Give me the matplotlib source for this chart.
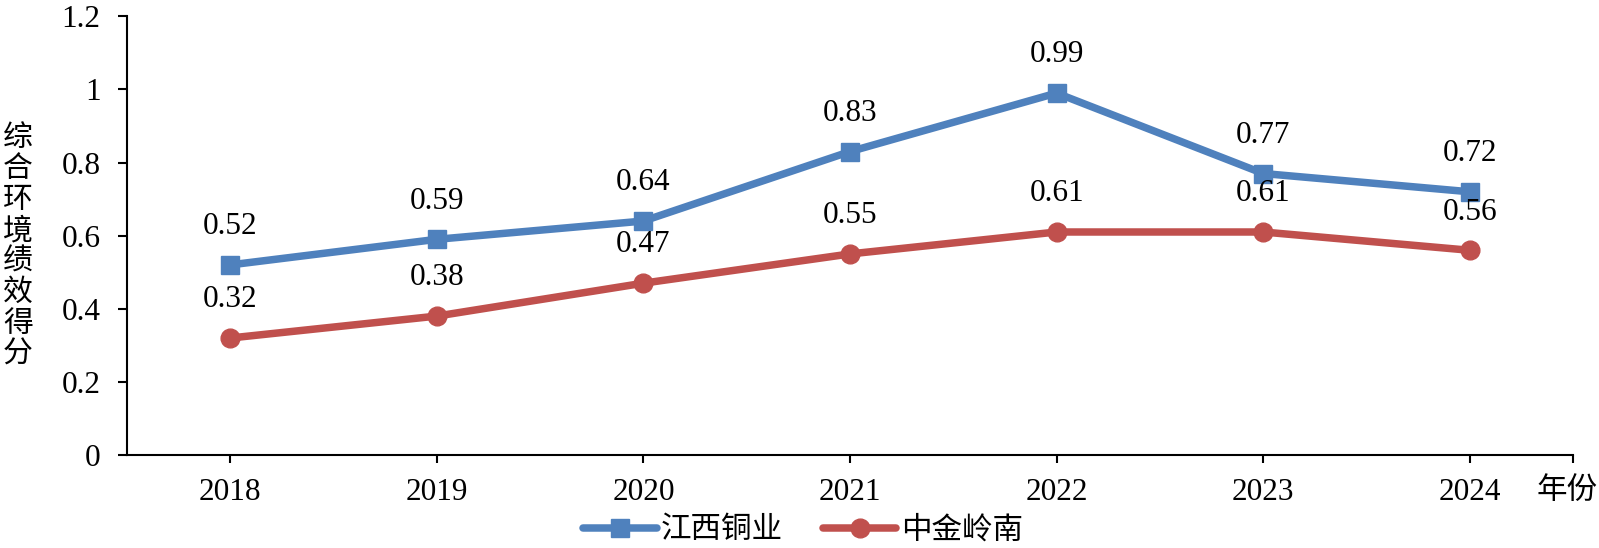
import matplotlib
matplotlib.use("Agg")
import matplotlib.pyplot as plt

years = ["2018", "2019", "2020", "2021", "2022", "2023", "2024"]
jx_values = [0.52, 0.59, 0.64, 0.83, 0.99, 0.77, 0.72]
zj_values = [0.32, 0.38, 0.47, 0.55, 0.61, 0.61, 0.56]
series_names = ["江西铜业", "中金岭南"]
y_ticks = [0, 0.2, 0.4, 0.6, 0.8, 1.0, 1.2]
y_tick_labels = ["0", "0.2", "0.4", "0.6", "0.8", "1", "1.2"]
y_label = "综合环境绩效得分"
x_label = "年份"

serif = ["Liberation Serif", "DejaVu Serif"]
cjk = ["Noto Sans CJK SC", "DejaVu Sans"]

fig = plt.figure(figsize=(15.99, 5.48), dpi=100)
ax = fig.add_axes([127/1599, 1-455/548, (1573-127)/1599, (455-16.3)/548])

blue = "#4F81BD"
red = "#C0504D"
x = list(range(len(years)))
ax.plot(x, jx_values, color=blue, lw=5.4, marker="s", ms=13.5, label=series_names[0], solid_capstyle="round")
ax.plot(x, zj_values, color=red, lw=5.4, marker="o", ms=13.5, label=series_names[1], solid_capstyle="round")

for xi, v in zip(x, jx_values):
    ax.annotate(f"{v:.2f}", (xi, v), xytext=(0, 27.5), textcoords="offset points",
                ha="center", va="center", fontsize=22.5, family=serif)
for xi, v in zip(x, zj_values):
    ax.annotate(f"{v:.2f}", (xi, v), xytext=(0, 27.5), textcoords="offset points",
                ha="center", va="center", fontsize=22.5, family=serif)

ax.set_xlim(-0.5, len(years) - 0.5)
ax.set_ylim(0, 1.2)
ax.set_xticks(x + [len(years) - 0.5])
ax.set_xticklabels(years + [""])
ax.set_yticks(y_ticks)
ax.set_yticklabels(y_tick_labels)
for lab in ax.get_xticklabels() + ax.get_yticklabels():
    lab.set_family(serif)
    lab.set_fontsize(22.5)
ax.tick_params(axis="x", direction="out", length=6, width=1.5, pad=10.5)
ax.tick_params(axis="y", direction="out", length=6.5, width=1.5, pad=12.5)
for s in ["top", "right"]:
    ax.spines[s].set_visible(False)
for s in ["left", "bottom"]:
    ax.spines[s].set_linewidth(1.5)

fig.text(18/1599, 1-246/548, "\n".join(y_label), ha="center", va="center",
         fontsize=21.5, family=cjk, linespacing=1.0)
fig.text(1567/1599, 1-490/548, x_label, ha="center", va="center", fontsize=22, family=cjk)

leg = fig.legend(loc="center", bbox_to_anchor=(803/1599, 1-530/548), ncol=2, frameon=False,
                 prop={"family": cjk, "size": 22}, handlelength=2.4, handletextpad=0.15,
                 columnspacing=1.3, borderpad=0, borderaxespad=0)

fig.savefig("out.png", dpi=100)
